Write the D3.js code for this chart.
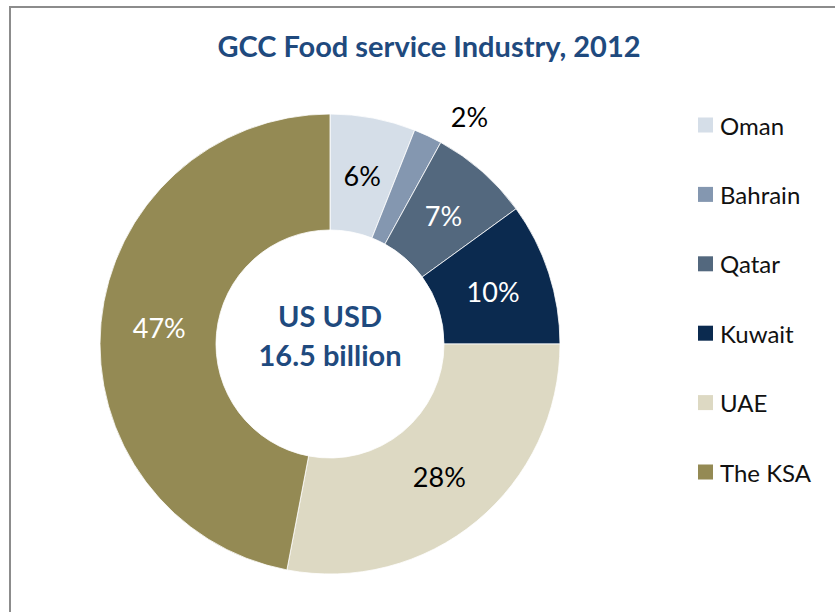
<!DOCTYPE html>
<html>
<head>
<meta charset="utf-8">
<script src="https://cdn.jsdelivr.net/npm/d3@7/dist/d3.min.js"></script>
<style>
  html, body { margin: 0; padding: 0; background: #fff; }
  svg { display: block; }
  text { font-family: Lato, "Open Sans", sans-serif; }
</style>
</head>
<body>
<svg id="chart" width="835" height="612"></svg>
<script>
// ---- data ----
const categories = ["Oman", "Bahrain", "Qatar", "Kuwait", "UAE", "The KSA"];
const shares = [6, 2, 7, 10, 28, 47];
const labels = ["6%", "2%", "7%", "10%", "28%", "47%"];
const colors = ["#D5DEE8", "#8497B0", "#53687E", "#0B2A4F", "#DDD9C3", "#948A54"];
const labelColors = ["#000", "#000", "#fff", "#fff", "#000", "#fff"];
const title = "GCC Food service Industry, 2012";
const centerLines = ["US USD", "16.5 billion"];

const svg = d3.select("#chart");
const W = 835, H = 612;

// frame
svg.append("rect")
  .attr("x", 10).attr("y", 7)
  .attr("width", W + 20).attr("height", H + 20)
  .attr("fill", "#fff").attr("stroke", "#8c8c8c").attr("stroke-width", 2);

// title
svg.append("text")
  .attr("x", 429).attr("y", 57)
  .attr("text-anchor", "middle")
  .attr("font-size", 29).attr("font-weight", 700)
  .attr("fill", "#1F4A7E")
  .text(title);

const cx = 330, cy = 344, rOuter = 230, rInner = 114;
const g = svg.append("g").attr("transform", `translate(${cx},${cy})`);

const pie = d3.pie().sort(null).value(d => d)(shares);
const arc = d3.arc().innerRadius(rInner).outerRadius(rOuter);
const labelArc = d3.arc().innerRadius(rInner + 1).outerRadius(rOuter - 2);

g.selectAll("path.slice")
  .data(pie)
  .join("path")
  .attr("class", "slice")
  .attr("d", arc)
  .attr("fill", (d, i) => colors[i])
  .attr("stroke", "#fff")
  .attr("stroke-width", 0.8);

// labels
const outside = [false, true, false, false, false, false];
g.selectAll("text.lbl")
  .data(pie)
  .join("text")
  .attr("class", "lbl")
  .attr("transform", (d, i) => {
    let p;
    if (outside[i]) {
      const a = (d.startAngle + d.endAngle) / 2 + 0.11;
      const r = 267;
      p = [r * Math.sin(a), -r * Math.cos(a)];
    } else {
      p = labelArc.centroid(d);
    }
    return `translate(${p[0]},${p[1]})`;
  })
  .attr("text-anchor", "middle")
  .attr("dominant-baseline", "central")
  .attr("font-size", 27)
  .attr("fill", (d, i) => labelColors[i])
  .text((d, i) => labels[i]);

// center text
g.selectAll("text.center")
  .data(centerLines)
  .join("text")
  .attr("class", "center")
  .attr("x", 0)
  .attr("y", (d, i) => -17 + i * 39)
  .attr("text-anchor", "middle")
  .attr("font-size", 29).attr("font-weight", 700)
  .attr("fill", "#1F4A7E")
  .text(d => d);

// legend
const leg = svg.append("g").attr("transform", "translate(698,125)");
const rows = leg.selectAll("g.row")
  .data(categories)
  .join("g")
  .attr("class", "row")
  .attr("transform", (d, i) => `translate(0,${i * 69.4})`);
rows.append("rect")
  .attr("x", 0).attr("y", -7.5)
  .attr("width", 15).attr("height", 15)
  .attr("fill", (d, i) => colors[i]);
rows.append("text")
  .attr("x", 22).attr("y", 0)
  .attr("dominant-baseline", "central")
  .attr("font-size", 24)
  .attr("fill", "#111")
  .text(d => d);
</script>
</body>
</html>
